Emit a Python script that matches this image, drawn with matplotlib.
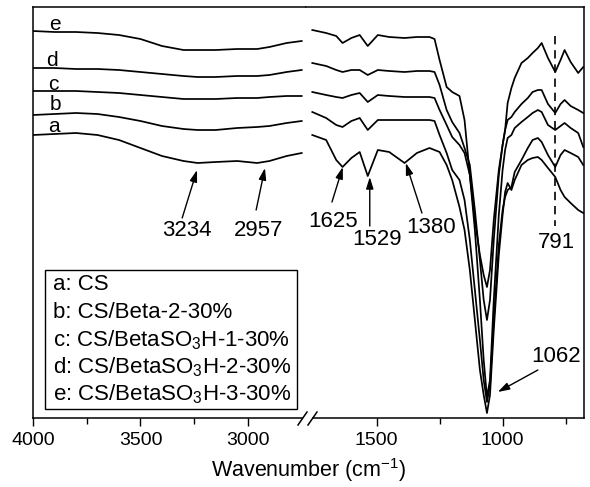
import matplotlib
matplotlib.use("Agg")
import matplotlib.pyplot as plt
from matplotlib.lines import Line2D
from matplotlib.patches import Rectangle

plt.rcParams['font.family'] = ['Liberation Sans', 'DejaVu Sans']
plt.rcParams['mathtext.fontset'] = 'custom'
plt.rcParams['mathtext.rm'] = 'Liberation Sans'
plt.rcParams['mathtext.it'] = 'Liberation Sans:italic'
plt.rcParams['mathtext.bf'] = 'Liberation Sans:bold'

# ---------------- data (relative signal, arbitrary units; axis inverted) -------------
wn_left = [4000, 3900, 3800, 3700, 3600, 3500, 3400, 3300, 3234, 3150, 3050, 2957, 2900, 2820, 2750]
left_e = [31, 32, 32, 33, 35, 39, 46, 50, 50, 50, 49, 49, 47, 43, 41]
left_d = [68, 68, 69, 69, 70, 72, 74, 76, 77, 77, 76, 76, 75, 72, 70]
left_c = [91, 91, 91, 92, 93, 95, 97, 99, 99, 99, 98, 98, 97, 96, 96]
left_b = [115, 114, 113, 114, 117, 121, 126, 129, 130, 130, 128, 127, 126, 123, 121]
left_a = [135, 134, 133, 135, 140, 148, 156, 161, 163, 162, 161, 163, 161, 156, 153]

wn_right = [1755, 1700, 1660, 1635, 1600, 1567, 1535, 1495, 1450, 1389, 1340, 1290, 1270, 1250,
            1222, 1200, 1171, 1151, 1130, 1110, 1090, 1075, 1062, 1050, 1035, 1015, 1000, 990,
            980, 965, 952, 925, 900, 881, 860, 845, 820, 791, 770, 754, 730, 700, 680]
right_e = [30, 33, 36, 43, 38, 35, 46, 35, 37, 38, 37, 37, 39, 60,
           87, 92, 96, 120, 175, 220, 255, 275, 287, 270, 220, 170, 145, 130,
           103, 88, 78, 63, 58, 53, 48, 43, 58, 72, 60, 50, 62, 73, 67]
right_d = [63, 66, 70, 72, 70, 70, 75, 70, 71, 72, 71, 71, 72, 85,
           110, 122, 133, 148, 165, 210, 260, 300, 320, 300, 240, 175, 145, 130,
           120, 117, 112, 104, 98, 92, 90, 90, 104, 113, 104, 100, 106, 110, 113]
right_c = [92, 95, 97, 98, 95, 93, 102, 95, 96, 97, 97, 97, 98, 110,
           125, 137, 145, 153, 175, 230, 300, 360, 397, 380, 300, 215, 170, 150,
           138, 135, 128, 122, 117, 113, 110, 112, 125, 130, 126, 123, 128, 133, 147]
right_b = [112, 118, 125, 127, 121, 118, 130, 120, 120, 120, 120, 120, 121, 135,
           153, 170, 180, 200, 240, 290, 340, 380, 402, 385, 320, 245, 210, 197,
           190, 187, 172, 160, 148, 140, 138, 142, 155, 167, 155, 150, 153, 157, 165]
right_a = [135, 140, 160, 167, 158, 152, 176, 150, 152, 163, 153, 148, 150, 152,
           165, 180, 207, 230, 270, 320, 370, 395, 413, 395, 330, 255, 215, 192,
           183, 190, 180, 165, 160, 158, 157, 160, 168, 177, 190, 197, 203, 210, 213]

curve_letters = ['a', 'b', 'c', 'd', 'e']
legend_labels = ['a: CS',
                 'b: CS/Beta-2-30%',
                 r'c: CS/BetaSO$\mathregular{_3}$H-1-30%',
                 r'd: CS/BetaSO$\mathregular{_3}$H-2-30%',
                 r'e: CS/BetaSO$\mathregular{_3}$H-3-30%']

# ---------------- figure ----------------
W, H = 590, 487
fig = plt.figure(figsize=(W / 100, H / 100), dpi=100)

def fx(px):
    return px / W

def fy(py):
    return (H - py) / H

ax_top, ax_bot = 7, 418
axL = fig.add_axes([fx(33), fy(ax_bot), fx(306) - fx(33), fy(ax_top) - fy(ax_bot)])
axR = fig.add_axes([fx(306), fy(ax_bot), fx(584) - fx(306), fy(ax_top) - fy(ax_bot)])

lw = 1.25
for ys in [left_a, left_b, left_c, left_d, left_e]:
    axL.plot(wn_left, ys, color='black', lw=lw)
for ys in [right_a, right_b, right_c, right_d, right_e]:
    axR.plot(wn_right, ys, color='black', lw=lw)

axL.set_xlim(4000, 2730)
axR.set_xlim(1780, 677)
for ax in (axL, axR):
    ax.set_ylim(ax_bot, ax_top)
    ax.set_yticks([])
    ax.tick_params(axis='x', direction='out', length=6, width=1, labelsize=14, pad=4)
    ax.tick_params(axis='x', which='minor', direction='out', length=4, width=1)
    for s in ax.spines.values():
        s.set_linewidth(1.1)

axL.set_xticks([4000, 3500, 3000])
axL.set_xticks([3750, 3250], minor=True)
axR.set_xticks([1500, 1000])
axR.set_xticks([1250, 750], minor=True)

axL.spines['right'].set_visible(False)
axR.spines['left'].set_visible(False)
axL.spines['bottom'].set_bounds(4000, 2748)
axR.spines['bottom'].set_bounds(1753, 677)

# break marks
for x0 in (298, 308):
    fig.add_artist(Line2D([fx(x0), fx(x0 + 9)], [fy(425), fy(412)], color='black', lw=1.1))

# curve letters
letter_pos = {'e': (55, 24), 'd': (52, 60), 'c': (53, 84), 'b': (55, 104), 'a': (54, 127)}
for k in curve_letters:
    x, y = letter_pos[k]
    fig.text(fx(x), fy(y), k, ha='center', va='center', fontsize=15)

# annotations
arrow = dict(arrowstyle='-|>,head_length=0.7,head_width=0.22', color='black', lw=1,
             shrinkA=0, shrinkB=0)
fs = 16
axL.annotate('', xy=(3237, 170), xytext=(3306, 218), arrowprops=arrow)
axL.text(3284, 231, '3234', ha='center', va='center', fontsize=fs)
axL.annotate('', xy=(2921, 168), xytext=(2962, 210), arrowprops=arrow)
axL.text(2953, 231, '2957', ha='center', va='center', fontsize=fs)

axR.annotate('', xy=(1634, 167), xytext=(1677, 202), arrowprops=arrow)
axR.text(1673, 222, '1625', ha='center', va='center', fontsize=fs)
axR.annotate('', xy=(1527, 177), xytext=(1527, 226), arrowprops=arrow)
axR.text(1499, 240, '1529', ha='center', va='center', fontsize=fs)
axR.annotate('', xy=(1384, 163), xytext=(1320, 213), arrowprops=arrow)
axR.text(1285, 228, '1380', ha='center', va='center', fontsize=fs)
axR.plot([791, 791], [36, 226], color='black', lw=1.2, linestyle=(0, (5, 3.5)))
axR.text(786, 243, '791', ha='center', va='center', fontsize=fs)
axR.annotate('', xy=(1019, 392), xytext=(860, 370), arrowprops=arrow)
axR.text(787, 357, '1062', ha='center', va='center', fontsize=fs)

# legend box
fig.add_artist(Rectangle((fx(45), fy(409)), fx(297) - fx(45), fy(270) - fy(409),
                         fill=False, edgecolor='black', lw=1.0))
baselines = [290, 318, 346, 373, 400]
for lab, b in zip(legend_labels, baselines):
    fig.text(fx(53), fy(b), lab, ha='left', va='baseline', fontsize=16)

fig.text(fx(309), fy(470), r'Wavenumber (cm$\mathregular{^{-1}}$)', ha='center', va='center',
         fontsize=15.5)

fig.savefig('out.png', dpi=100)
